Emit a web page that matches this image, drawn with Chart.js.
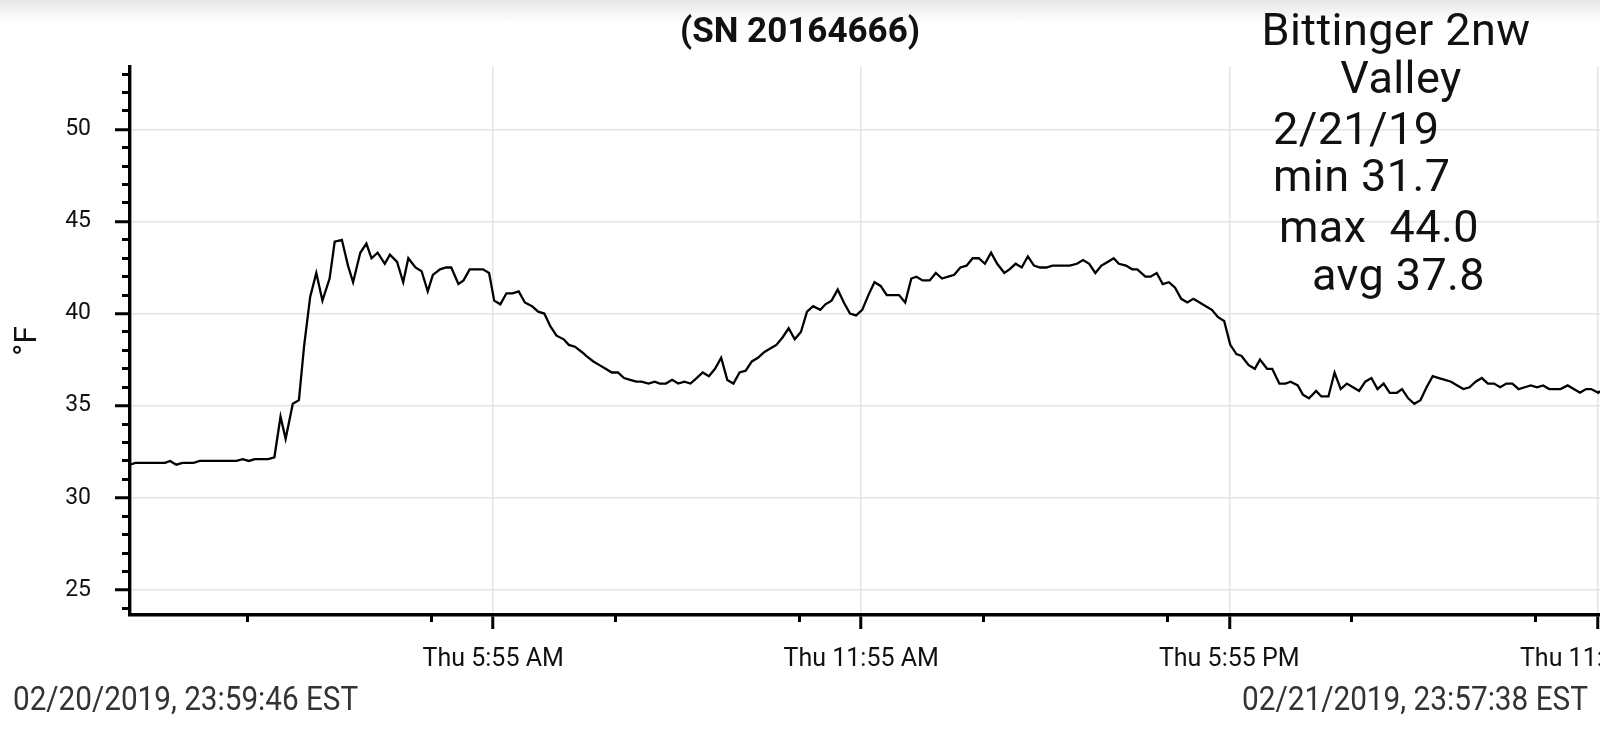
<!DOCTYPE html>
<html>
<head>
<meta charset="utf-8">
<script src="https://cdn.jsdelivr.net/npm/chart.js@4.4.1/dist/chart.umd.min.js"></script>
<style>
  html, body { margin: 0; padding: 0; background: #fff; overflow: hidden; width: 1600px; height: 729px; font-family: Roboto, sans-serif; }
  #shade { position: absolute; left: 0; top: 0; width: 1600px; height: 22px; background: linear-gradient(#e6e6e6, #fff); }
  #wrap { position: absolute; left: 0; top: 0; width: 1760px; height: 729px; }
  .note { position: absolute; white-space: pre; color: #111; font-size: 45px; line-height: 45px; letter-spacing: 0.4px; }
  #sn { position: absolute; left: 0; top: 13px; width: 1600px; text-align: center; font-weight: bold; font-size: 35px; line-height: 35px; color: #111; }
  .stamp { position: absolute; top: 681px; white-space: pre; color: #333; font-size: 34px; line-height: 34px; }
</style>
</head>
<body>
<div id="shade"></div>
<div id="wrap"><canvas id="chart"></canvas></div>
<div id="sn">(SN 20164666)</div>
<div class="note" style="left:1196px;width:400px;text-align:center;top:7px">Bittinger 2nw</div>
<div class="note" style="left:1201px;width:400px;text-align:center;top:55px">Valley</div>
<div class="note" style="left:1273px;top:106px">2/21/19</div>
<div class="note" style="left:1273px;top:153px">min 31.7</div>
<div class="note" style="left:1279px;top:204px">max  44.0</div>
<div class="note" style="left:1312px;top:252px">avg 37.8</div>
<div class="stamp" id="startStamp" style="left:13px">02/20/2019, 23:59:46 EST</div>
<div class="stamp" id="endStamp" style="left:1242px">02/21/2019, 23:57:38 EST</div>
<script>
// minutes after 02/21/2019 00:00 EST
const times = [
  -0.2, 5, 34, 39, 45, 51, 56, 62, 68, 74,
  94, 100, 104, 110, 116, 122, 135, 141, 147, 152,
  159, 165, 170, 176, 182, 188, 195, 200, 207, 213,
  218, 225, 231, 236, 242, 249, 254, 261, 267, 272,
  279, 285, 291, 296, 303, 309, 314, 321, 326, 332,
  345, 351, 356, 362, 368, 374, 380, 386, 393, 399,
  405, 411, 417, 424, 429, 435, 442, 446, 453, 459,
  465, 471, 477, 483, 489, 495, 500, 507, 513, 518,
  524, 530, 536, 542, 548, 554, 560, 566, 572, 578,
  584, 590, 596, 602, 608, 614, 620, 626, 632, 638,
  644, 650, 656, 662, 668, 675, 680, 686, 692, 698,
  704, 710, 716, 722, 728, 734, 740, 752, 758, 764,
  769, 775, 782, 788, 794, 800, 806, 812, 818, 824,
  830, 836, 842, 848, 855, 860, 866, 872, 878, 884,
  890, 896, 902, 919, 926, 932, 938, 944, 950, 956,
  962, 967, 974, 980, 985, 993, 998, 1004, 1010, 1016,
  1022, 1028, 1034, 1040, 1046, 1052, 1058, 1064, 1070, 1076,
  1082, 1087, 1094, 1100, 1105, 1112, 1117, 1124, 1130, 1135,
  1142, 1147, 1153, 1160, 1165, 1172, 1178, 1184, 1190, 1196,
  1202, 1208, 1214, 1220, 1226, 1232, 1239, 1244, 1250, 1256,
  1262, 1268, 1274, 1280, 1286, 1292, 1298, 1304, 1310, 1316,
  1322, 1328, 1334, 1340, 1346, 1352, 1358, 1364, 1370, 1376,
  1382, 1388, 1394, 1399, 1406, 1412, 1418, 1424, 1429, 1436,
  1437.6
];

// °F
const temps = [
  31.8, 31.9, 31.9, 32.0, 31.8, 31.9, 31.9, 31.9, 32.0, 32.0,
  32.0, 32.0, 32.0, 32.1, 32.0, 32.1, 32.1, 32.2, 34.4, 33.2,
  35.1, 35.3, 38.2, 40.9, 42.2, 40.7, 41.9, 43.9, 44.0, 42.6,
  41.7, 43.3, 43.8, 43.0, 43.3, 42.7, 43.2, 42.8, 41.7, 43.0,
  42.5, 42.3, 41.2, 42.1, 42.4, 42.5, 42.5, 41.6, 41.8, 42.4,
  42.4, 42.2, 40.7, 40.5, 41.1, 41.1, 41.2, 40.6, 40.4, 40.1,
  40.0, 39.3, 38.8, 38.6, 38.3, 38.2, 37.9, 37.7, 37.4, 37.2,
  37.0, 36.8, 36.8, 36.5, 36.4, 36.3, 36.3, 36.2, 36.3, 36.2,
  36.2, 36.4, 36.2, 36.3, 36.2, 36.5, 36.8, 36.6, 37.0, 37.6,
  36.4, 36.2, 36.8, 36.9, 37.4, 37.6, 37.9, 38.1, 38.3, 38.7,
  39.2, 38.6, 39.0, 40.1, 40.4, 40.2, 40.5, 40.7, 41.3, 40.6,
  40.0, 39.9, 40.2, 41.0, 41.7, 41.5, 41.0, 41.0, 40.6, 41.9,
  42.0, 41.8, 41.8, 42.2, 41.9, 42.0, 42.1, 42.5, 42.6, 43.0,
  43.0, 42.7, 43.3, 42.7, 42.2, 42.4, 42.7, 42.5, 43.1, 42.6,
  42.5, 42.5, 42.6, 42.6, 42.7, 42.9, 42.7, 42.2, 42.6, 42.8,
  43.0, 42.7, 42.6, 42.4, 42.4, 42.0, 42.0, 42.2, 41.6, 41.7,
  41.4, 40.8, 40.6, 40.8, 40.6, 40.4, 40.2, 39.8, 39.6, 38.3,
  37.8, 37.7, 37.2, 37.0, 37.5, 37.0, 37.0, 36.2, 36.2, 36.3,
  36.1, 35.6, 35.4, 35.8, 35.5, 35.5, 36.8, 35.9, 36.2, 36.0,
  35.8, 36.3, 36.5, 35.9, 36.2, 35.7, 35.7, 35.9, 35.4, 35.1,
  35.3, 36.0, 36.6, 36.5, 36.4, 36.3, 36.1, 35.9, 36.0, 36.3,
  36.5, 36.2, 36.2, 36.0, 36.2, 36.2, 35.9, 36.0, 36.1, 36.0,
  36.1, 35.9, 35.9, 35.9, 36.1, 35.9, 35.7, 35.9, 35.9, 35.7,
  35.8
];

const xMajorTicks = [355, 715, 1075, 1435];
const xMajorLabels = ["Thu 5:55 AM", "Thu 11:55 AM", "Thu 5:55 PM", "Thu 11:55 PM"];
const xMinorTicks = [115, 295, 475, 655, 835, 1015, 1195, 1375];
const yMajorTicks = [25, 30, 35, 40, 45, 50];
const yMinorTicks = [24, 26, 27, 28, 29, 31, 32, 33, 34, 36, 37, 38, 39, 41, 42, 43, 44, 46, 47, 48, 49, 51, 52, 53];

const xMin = -0.23, xMax = 1437.63;
const yMin = 23.64, yMax = 53.38;

Chart.defaults.font.family = "Roboto, sans-serif";

const setTicks = (list) => (scale) => { scale.ticks = list.map((v) => ({ value: v })); };

new Chart(document.getElementById("chart"), {
  type: "line",
  data: {
    datasets: [{
      data: times.map((t, i) => ({ x: t, y: temps[i] })),
      borderColor: "#000",
      borderWidth: 2.3,
      pointRadius: 0,
      tension: 0,
      fill: false,
    }],
  },
  options: {
    responsive: true,
    maintainAspectRatio: false,
    animation: false,
    layout: { padding: { top: 67, right: 160, bottom: 0, left: 0 } },
    plugins: { legend: { display: false }, tooltip: { enabled: false } },
    scales: {
      x: {
        type: "linear", position: "bottom", weight: 1, min: xMin, max: xMax,
        afterBuildTicks: setTicks(xMajorTicks),
        afterFit: (s) => { s.height = 114; },
        grid: { color: "#e3e3e3", lineWidth: 1.5, tickColor: "#000", tickWidth: 3, tickLength: 14 },
        border: { color: "#000", width: 3.4 },
        ticks: { autoSkip: false, maxRotation: 0, padding: 16, color: "#111", font: { size: 25 },
          callback: (v, i) => xMajorLabels[i] },
      },
      xMinor: {
        type: "linear", position: "bottom", weight: 0, min: xMin, max: xMax,
        afterBuildTicks: setTicks(xMinorTicks),
        afterFit: (s) => { s.height = 0; },
        grid: { drawOnChartArea: false, tickColor: "#000", tickWidth: 3, tickLength: 7 },
        border: { display: false },
        ticks: { display: false },
      },
      y: {
        type: "linear", position: "left", weight: 1, min: yMin, max: yMax,
        afterBuildTicks: setTicks(yMajorTicks),
        afterFit: (s) => { s.width = 130; },
        grid: { color: "#e3e3e3", lineWidth: 1.5, tickColor: "#000", tickWidth: 3, tickLength: 15 },
        border: { color: "#000", width: 3.4 },
        ticks: { padding: 24, color: "#111", font: { size: 23 } },
        title: { display: true, text: "°F", color: "#111", font: { size: 32 }, padding: { top: 9, bottom: 0 } },
      },
      yMinor: {
        type: "linear", position: "left", weight: 0, min: yMin, max: yMax,
        afterBuildTicks: setTicks(yMinorTicks),
        afterFit: (s) => { s.width = 0; },
        grid: { drawOnChartArea: false, tickColor: "#000", tickWidth: 3, tickLength: 8 },
        border: { display: false },
        ticks: { display: false },
      },
    },
  },
});

// the footer stamps are set in a narrow face: squeeze them to the width seen in the picture
[["startStamp", 345], ["endStamp", 346]].forEach(([id, w]) => {
  const el = document.getElementById(id);
  const k = w / el.getBoundingClientRect().width;
  el.style.transformOrigin = "left top";
  el.style.transform = "scaleX(" + k.toFixed(3) + ")";
});
</script>
</body>
</html>
